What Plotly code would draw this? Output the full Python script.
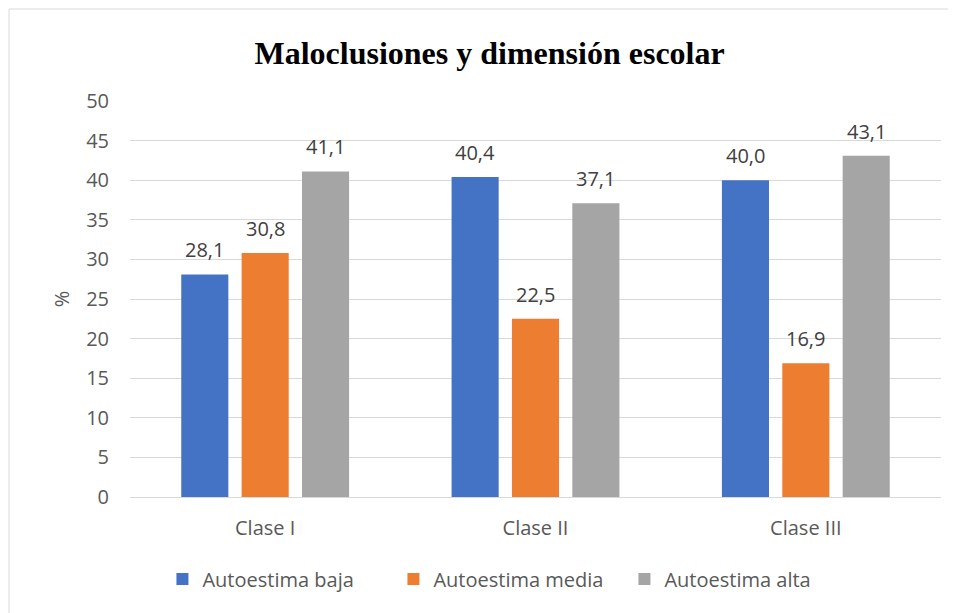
import plotly.graph_objects as go

categories = ["Clase I", "Clase II", "Clase III"]
baja = [28.1, 40.4, 40.0]
media = [30.8, 22.5, 16.9]
alta = [41.1, 37.1, 43.1]
series_names = ["Autoestima baja", "Autoestima media", "Autoestima alta"]
colors = ["#4472c4", "#ed7d31", "#a5a5a5"]

FONT = "Open Sans"
W, H = 948, 605
L, R, T, B = 122, 15, 93, 116
plot_w = W - L - R
plot_h = H - T - B
BARGAP = 0.33
slot_px = plot_w / len(categories) * (1 - BARGAP) / 3

fig = go.Figure()
annotations = []
for i, (name, vals, col) in enumerate(zip(series_names, [baja, media, alta], colors)):
    fig.add_trace(
        go.Bar(
            x=categories, y=vals, name=name,
            marker=dict(color=col, line=dict(width=0)),
        )
    )
    for cat, v in zip(categories, vals):
        annotations.append(dict(
            x=cat, y=v, xref="x", yref="y",
            text=f"{v:.1f}".replace(".", ","), showarrow=False,
            xanchor="center", yanchor="bottom",
            xshift=(i - 1) * slot_px, yshift=9,
            font=dict(family=FONT, size=20, color="#404040"),
        ))

fig.update_layout(
    width=W, height=H,
    paper_bgcolor="white", plot_bgcolor="white",
    margin=dict(l=L, r=R, t=T, b=B),
    title=dict(
        text="<b>Maloclusiones y dimensión escolar</b>",
        font=dict(family="Liberation Serif", size=32, color="black"),
        x=0.508, xanchor="center", y=0.926, yanchor="middle",
    ),
    barmode="group", bargap=BARGAP, bargroupgap=0.22,
    xaxis=dict(
        showgrid=False, showline=True, linecolor="#d9d9d9", linewidth=1,
        tickfont=dict(family=FONT, size=20, color="#595959"),
        ticks="", ticklabelstandoff=13,
    ),
    yaxis=dict(
        range=[0, 50], dtick=5, showgrid=True, gridcolor="#d9d9d9", gridwidth=1,
        zeroline=False, showline=False,
        tickfont=dict(family=FONT, size=20, color="#595959"),
        ticklabelstandoff=20,
        title=dict(text="%", font=dict(family=FONT, size=20, color="#595959"), standoff=11),
    ),
    legend=dict(
        orientation="h", x=0.040, xanchor="left", y=-0.158, yanchor="top",
        font=dict(family=FONT, size=20, color="#595959"),
        itemwidth=30, traceorder="normal",
        entrywidth=186, entrywidthmode="pixels",
    ),
    annotations=annotations,
    shapes=[dict(
        type="rect", xref="paper", yref="paper",
        x0=(1 - L) / plot_w, x1=(W + 20 - L) / plot_w,
        y0=-(B + 20) / plot_h, y1=(plot_h + T - 1) / plot_h,
        line=dict(color="#d9d9d9", width=1), fillcolor="rgba(0,0,0,0)", layer="below",
    )],
)

fig.write_html("out.html")
